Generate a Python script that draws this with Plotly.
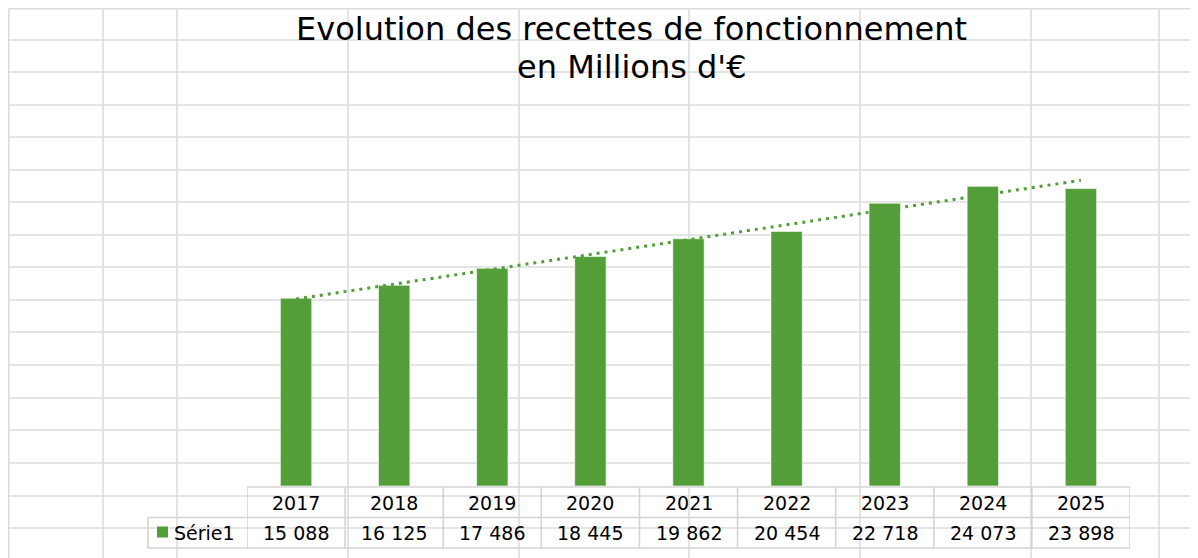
import numpy as np
import plotly.graph_objects as go

# ---- data ----
years = ["2017", "2018", "2019", "2020", "2021", "2022", "2023", "2024", "2025"]
values = [15088, 16125, 17486, 18445, 19862, 20454, 22718, 24073, 23898]
series_name = "Série1"
title_line1 = "Evolution des recettes de fonctionnement"
title_line2 = "en Millions d'€"

# ---- layout constants (pixel positions in the 1198x558 window) ----
OFF = 8                       # default page body margin of the browser
W, H = 1198 - OFF, 558 - OFF  # figure size so that it fills the window
GREEN = "#549E3A"
GRID = "#dcdcdc"
BORDER = "#d4d4d4"
FONT = "DejaVu Sans"
sheet_rows_px = [7, 40, 72, 105, 137, 170, 202, 235, 267, 300, 332, 365, 398, 430, 463, 496, 528]
sheet_cols_px = [7, 103, 177, 348, 519, 689, 860, 1031, 1159]

plot_left, plot_right = 247, 1130
base_px, top_px = 486, 112.6
y_max = 30000


def px(p):
    return (max(p, OFF + 0.8) - OFF) / W


def py(p):
    return (H - (max(p, OFF + 0.8) - OFF)) / H


# trendline (linear least squares)
idx = np.arange(len(values))
slope, intercept = np.polyfit(idx, values, 1)
trend = intercept + slope * idx

fig = go.Figure()
fig.add_trace(go.Bar(
    x=years, y=values, name=series_name, width=0.32,
    marker=dict(color=GREEN, line=dict(color="rgba(255,255,255,0.6)", width=1)),
    showlegend=False, hoverinfo="x+y",
))
fig.add_trace(go.Scatter(
    x=[years[0], years[-1]], y=[trend[0], trend[-1]], mode="lines",
    line=dict(color=GREEN, width=3, dash="3px,5px"),
    showlegend=False, hoverinfo="skip",
))

shapes = []
# spreadsheet grid behind the chart
for r in sheet_rows_px:
    shapes.append(dict(type="line", xref="paper", yref="paper", x0=px(7), x1=1, y0=py(r), y1=py(r),
                       line=dict(color=GRID, width=1.6), layer="below"))
for c in sheet_cols_px:
    shapes.append(dict(type="line", xref="paper", yref="paper", x0=px(c), x1=px(c), y0=py(7), y1=0,
                       line=dict(color=GRID, width=1.6), layer="below"))

# data table borders
row_top, row_mid, row_bot = 487, 517.5, 548
legend_left = 148
n = len(years)
shapes.append(dict(type="line", xref="x", yref="paper", x0=-0.5, x1=n - 0.5, y0=py(row_top), y1=py(row_top),
                   line=dict(color=BORDER, width=1.6)))
for yy in (row_mid, row_bot):
    shapes.append(dict(type="line", xref="paper", yref="paper", x0=px(legend_left), x1=px(plot_right),
                       y0=py(yy), y1=py(yy), line=dict(color=BORDER, width=1.6)))
for i in range(n + 1):
    shapes.append(dict(type="line", xref="x", yref="paper", x0=i - 0.5, x1=i - 0.5,
                       y0=py(row_top), y1=py(row_bot), line=dict(color=BORDER, width=1.6)))
shapes.append(dict(type="line", xref="paper", yref="paper", x0=px(legend_left), x1=px(legend_left),
                   y0=py(row_mid), y1=py(row_bot), line=dict(color=BORDER, width=1.6)))
# legend key
shapes.append(dict(type="rect", xref="paper", yref="paper", x0=px(157), x1=px(168), y0=py(537.5), y1=py(526.5),
                   fillcolor=GREEN, line=dict(width=0)))

tfont = dict(family=FONT, size=19, color="#000000")
annotations = []
for i, (y_, v) in enumerate(zip(years, values)):
    annotations.append(dict(x=i, xref="x", y=py(502.5), yref="paper", text=y_, showarrow=False,
                            font=tfont, xanchor="center", yanchor="middle"))
    annotations.append(dict(x=i, xref="x", y=py(533), yref="paper", text=f"{v:,}".replace(",", " "),
                            showarrow=False, font=tfont, xanchor="center", yanchor="middle"))
annotations.append(dict(x=px(172), xref="paper", y=py(533), yref="paper", text=series_name, showarrow=False,
                        font=tfont, xanchor="left", yanchor="middle"))
annotations.append(dict(x=px(631), xref="paper", y=py(29), yref="paper", text=title_line1, showarrow=False,
                        font=dict(family=FONT, size=32, color="#000000"), xanchor="center", yanchor="middle"))
annotations.append(dict(x=px(631), xref="paper", y=py(67), yref="paper", text=title_line2, showarrow=False,
                        font=dict(family=FONT, size=32, color="#000000"), xanchor="center", yanchor="middle"))

fig.update_layout(
    width=W, height=H,
    margin=dict(l=0, r=0, t=0, b=0),
    paper_bgcolor="white", plot_bgcolor="rgba(0,0,0,0)",
    xaxis=dict(type="category", domain=[px(plot_left), px(plot_right)], range=[-0.5, n - 0.5],
               showticklabels=False, showgrid=False, zeroline=False, showline=False, ticks=""),
    yaxis=dict(domain=[py(base_px), py(top_px)], range=[0, y_max], showticklabels=False,
               showgrid=False, zeroline=False, showline=False, ticks=""),
    shapes=shapes, annotations=annotations,
)

fig.write_html("out.html")
